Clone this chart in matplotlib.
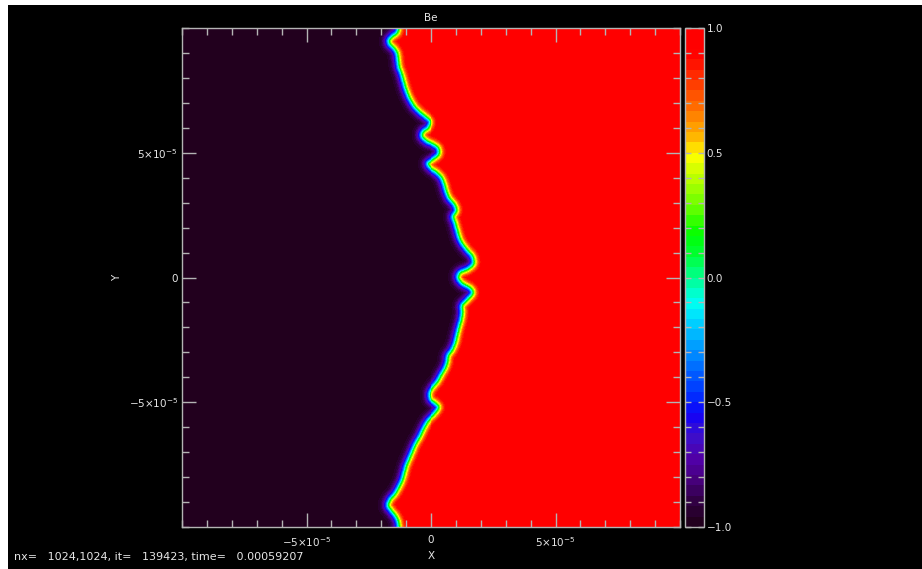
import numpy as np
import matplotlib
matplotlib.use('Agg')
import matplotlib.pyplot as plt
from matplotlib.colors import LinearSegmentedColormap
from matplotlib.path import Path
from matplotlib.patches import Rectangle
from matplotlib.ticker import FixedLocator, MultipleLocator, FixedFormatter

# ---------------- data ----------------
# interface (front) centre-line, top to bottom, in units of 1e-5
interface_x = [-1.33, -1.41, -1.61, -1.73, -1.69, -1.53, -1.41, -1.37, -1.33, -1.24,
               -1.16, -1.08, -0.96, -0.84, -0.68, -0.48, -0.28, -0.08, -0.16, -0.36,
               -0.40, -0.20, 0.08, 0.28, 0.28, 0.04, -0.16, -0.04, 0.20, 0.40,
               0.52, 0.60, 0.72, 0.92, 1.00, 0.88, 0.96, 1.04, 1.12, 1.24,
               1.45, 1.65, 1.69, 1.49, 1.16, 1.08, 1.24, 1.57, 1.65, 1.45,
               1.24, 1.24, 1.20, 1.12, 1.04, 0.96, 0.84, 0.68, 0.64, 0.56,
               0.40, 0.24, 0.04, -0.08, -0.04, 0.16, 0.28, 0.12, -0.12, -0.28,
               -0.40, -0.52, -0.68, -0.80, -0.92, -1.04, -1.12, -1.20, -1.33, -1.49,
               -1.69, -1.77, -1.65, -1.49, -1.37, -1.33]
interface_y = [10.12, 9.84, 9.68, 9.52, 9.36, 9.20, 9.00, 8.72, 8.44, 8.20,
               7.92, 7.64, 7.31, 7.07, 6.83, 6.63, 6.47, 6.27, 6.03, 5.87,
               5.67, 5.47, 5.35, 5.19, 4.95, 4.75, 4.59, 4.39, 4.23, 4.03,
               3.75, 3.47, 3.19, 2.95, 2.71, 2.46, 2.18, 1.90, 1.62, 1.38,
               1.10, 0.86, 0.58, 0.38, 0.22, -0.02, -0.26, -0.46, -0.66, -0.90,
               -1.14, -1.42, -1.70, -1.98, -2.30, -2.63, -2.91, -3.15, -3.39, -3.63,
               -3.91, -4.19, -4.43, -4.67, -4.91, -5.07, -5.23, -5.47, -5.71, -5.95,
               -6.19, -6.43, -6.71, -6.99, -7.27, -7.56, -7.84, -8.12, -8.40, -8.68,
               -8.92, -9.16, -9.36, -9.56, -9.80, -10.12]
left_value = -1.0      # Be value left of the front
right_value = 1.0      # Be value right of the front
front_width = 0.21     # tanh width of the front, units of 1e-5

title = 'Be'
xlabel = 'X'
ylabel = 'Y'
axis_ticks = [-5e-5, 0.0, 5e-5]
axis_ticklabels = [r'$-5{\times}10^{-5}$', '0', r'$5{\times}10^{-5}$']
cbar_ticks = [-1.0, -0.5, 0.0, 0.5, 1.0]
cbar_ticklabels = ['\u22121.0', '\u22120.5', '0.0', '0.5', '1.0']
info_text = 'nx=   1024,1024, it=   139423, time=   0.00059207'

# colour table (IDL rainbow-like)
cmap_anchors = [
    (0.00, '#22001e'), (0.04, '#300040'), (0.09, '#480080'), (0.13, '#5000a8'),
    (0.18, '#3a10d0'), (0.22, '#1000f8'), (0.26, '#0030ff'), (0.32, '#0070ff'),
    (0.37, '#00a8ff'), (0.42, '#00e0ff'), (0.45, '#00fff0'), (0.50, '#00ff90'),
    (0.55, '#00ff30'), (0.59, '#00ff00'), (0.64, '#60ff00'), (0.69, '#a8ff00'),
    (0.73, '#e0ff00'), (0.75, '#ffff00'), (0.78, '#ffc000'), (0.82, '#ff9000'),
    (0.86, '#ff6000'), (0.90, '#ff3800'), (0.94, '#ff1000'), (0.96, '#ff0000'),
    (1.00, '#ff0000')]
cmap = LinearSegmentedColormap.from_list('idl_rainbow', cmap_anchors, N=48)

# ---------------- build the field from the traced front ----------------
def catmull_rom(px, py, n=10):
    P = np.column_stack([px, py]).astype(float)
    P = np.vstack([2 * P[0] - P[1], P, 2 * P[-1] - P[-2]])
    t = np.linspace(0, 1, n, endpoint=False)[:, None]
    out = []
    for i in range(1, len(P) - 2):
        p0, p1, p2, p3 = P[i - 1], P[i], P[i + 1], P[i + 2]
        seg = 0.5 * ((2 * p1) + (-p0 + p2) * t + (2 * p0 - 5 * p1 + 4 * p2 - p3) * t ** 2
                     + (-p0 + 3 * p1 - 3 * p2 + p3) * t ** 3)
        out.append(seg)
    out.append(P[-2][None, :])
    return np.vstack(out)

curve = catmull_rom(interface_x, interface_y)
N = 500
xs = np.linspace(-10, 10, N)
ys = np.linspace(-10, 10, N)
X, Y = np.meshgrid(xs, ys)
poly = np.vstack([curve, [[30, curve[-1, 1]], [30, curve[0, 1]]]])
inside = Path(poly).contains_points(np.column_stack([X.ravel(), Y.ravel()])).reshape(X.shape)
sign = np.where(inside, 1.0, -1.0)

dist = np.full(X.shape, 10.0)
cols = np.where(np.abs(xs) < 4.0)[0]
sub_x = X[:, cols]
sub_y = Y[:, cols]
for r0 in range(0, N, 25):
    px = sub_x[r0:r0 + 25].ravel()[:, None]
    py = sub_y[r0:r0 + 25].ravel()[:, None]
    d2 = (px - curve[None, :, 0]) ** 2 + (py - curve[None, :, 1]) ** 2
    dist[r0:r0 + 25, cols] = np.sqrt(d2.min(axis=1)).reshape(-1, len(cols))

mid = 0.5 * (left_value + right_value)
half = 0.5 * (right_value - left_value)
field = mid + half * np.tanh(sign * dist / front_width)

# ---------------- figure ----------------
W, H = 922, 569
fig = plt.figure(figsize=(W / 100, H / 100), dpi=100, facecolor='black')
fig.patches.append(Rectangle((0, 1 - 5 / H), 1, 5 / H, transform=fig.transFigure,
                             facecolor='white', edgecolor='none', zorder=-1))
fig.patches.append(Rectangle((0, 0), 8 / W, 1, transform=fig.transFigure,
                             facecolor='white', edgecolor='none', zorder=-1))

fg = '#e6e6e6'
spine_c = '#b4b4b4'
fs = 7.5

ax = fig.add_axes([182 / W, 1 - 527 / H, (680 - 182) / W, (527 - 28) / H])
ax.set_facecolor('black')
im = ax.imshow(field, extent=[-1e-4, 1e-4, -1e-4, 1e-4], origin='lower', cmap=cmap,
               vmin=-1, vmax=1, interpolation='nearest', aspect='auto')
ax.set_xlim(-1e-4, 1e-4)
ax.set_ylim(-1e-4, 1e-4)
for axis in (ax.xaxis, ax.yaxis):
    axis.set_major_locator(FixedLocator(axis_ticks))
    axis.set_major_formatter(FixedFormatter(axis_ticklabels))
    axis.set_minor_locator(MultipleLocator(1e-5))
ax.tick_params(which='both', direction='in', top=True, right=True, colors=spine_c,
               labelcolor=fg, labelsize=fs, width=1)
ax.tick_params(which='major', length=10)
ax.tick_params(which='minor', length=5)
ax.tick_params(axis='x', pad=6)
ax.tick_params(axis='y', pad=3)
for s in ax.spines.values():
    s.set_color(spine_c)
    s.set_linewidth(1)
ax.set_xlabel(xlabel, color=fg, fontsize=fs, va='center')
ax.xaxis.set_label_coords(0.5, (527 - 556) / 499)
ax.set_ylabel(ylabel, color=fg, fontsize=fs, va='center')
ax.yaxis.set_label_coords((117 - 182) / 498, 0.5)

cax = fig.add_axes([685 / W, 1 - 527 / H, (704 - 685) / W, (527 - 28) / H])
cb = fig.colorbar(im, cax=cax)
cb.outline.set_edgecolor(spine_c)
cb.outline.set_linewidth(1)
cax.yaxis.set_major_locator(FixedLocator(cbar_ticks))
cax.yaxis.set_major_formatter(FixedFormatter(cbar_ticklabels))
cax.yaxis.set_minor_locator(MultipleLocator(0.1))
cax.tick_params(which='both', direction='in', left=True, right=True, labelleft=False,
                labelright=True, colors=spine_c, labelcolor=fg, labelsize=fs,
                length=4, width=1, pad=2)

fig.text(431 / W, 1 - 18 / H, title, color=fg, fontsize=fs, ha='center', va='center')
fig.text(14 / W, 1 - 557 / H, info_text, color=fg, fontsize=8, ha='left', va='center')

fig.savefig('out.png', dpi=100, facecolor='black')
